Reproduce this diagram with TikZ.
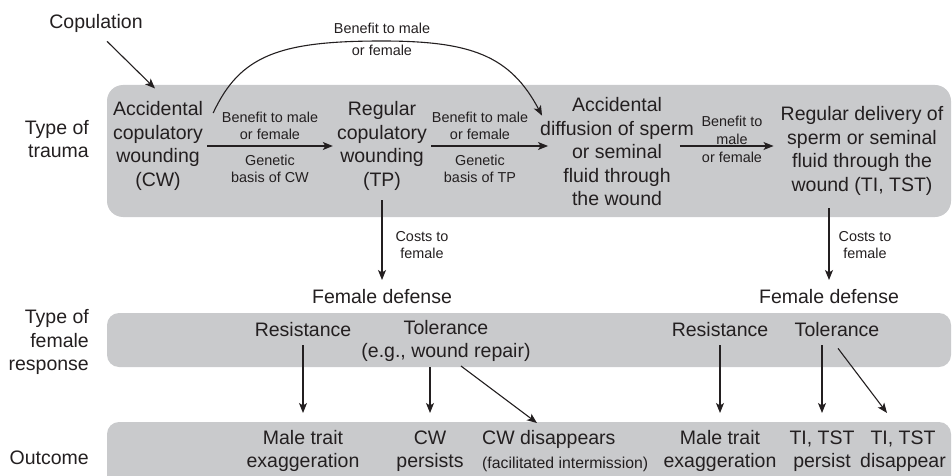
\documentclass[tikz,border=0pt]{standalone}
\usepackage{fontspec}
\setmainfont{Liberation Sans}
\usetikzlibrary{arrows.meta,calc}
\definecolor{boxgray}{RGB}{201,202,204}
\definecolor{ink}{RGB}{35,31,32}
\begin{document}
\begin{tikzpicture}[x=1pt,y=-1pt,
  big/.style={font=\fontsize{19.5}{23.5}\selectfont, align=center, inner sep=4pt, text=ink},
  small/.style={font=\fontsize{14.4}{17}\selectfont, align=center, inner sep=2pt, text=ink},
  arr/.style={-{Stealth[length=10pt,width=8pt,inset=2.5pt]}, line width=1.1pt, draw=ink},
  band/.style={fill=boxgray}]
\useasboundingbox (0,0) rectangle (952,476);
\clip (0,0) rectangle (952,476);
% bands
\fill[band, rounded corners=16pt] (107,85) rectangle (951,217);
\fill[band, rounded corners=12pt] (107,313) rectangle (951,367);
\fill[band, rounded corners=12pt] (107,422) rectangle (951,500);
% row labels
\node[big, anchor=east, align=right] (typ1) at (93,139) {Type of\\trauma};
\node[big, anchor=east, align=right] (typ2) at (93,342) {Type of\\female\\response};
\node[big, anchor=east] (typ3) at (93,458) {Outcome};
% top row
\node[big] (cop) at (96,23) {Copulation};
\node[big] (cw) at (158,146) {Accidental\\copulatory\\wounding\\(CW)};
\node[big] (tp) at (382,146) {Regular\\copulatory\\wounding\\(TP)};
\node[big] (diff) at (617,152) {Accidental\\diffusion of sperm\\or seminal\\fluid through\\the wound};
\node[big] (del) at (862,151) {Regular delivery of\\sperm or seminal\\fluid through the\\wound (TI, TST)};
\node[small] (b1) at (270,126) {Benefit to male\\or female};
\node[small] (g1) at (270,169) {Genetic\\basis of CW};
\node[small] (b2) at (480,126) {Benefit to male\\or female};
\node[small] (g2) at (480,169) {Genetic\\basis of TP};
\node[small, font=\fontsize{14.4}{18}\selectfont] (b3) at (732,139) {Benefit to\\male\\or female};
\node[small, font=\fontsize{14.4}{22}\selectfont] (btop) at (382,39) {Benefit to male\\or female};
\node[small] (c1) at (422,245) {Costs to\\female};
\node[small] (c2) at (865,245) {Costs to\\female};
% defense row
\node[big] (fd1) at (382,297) {Female defense};
\node[big] (fd2) at (829,297) {Female defense};
\node[big] (res1) at (303,330) {Resistance};
\node[big] (tol1) at (446,341) {Tolerance\\(e.g., wound repair)};
\node[big] (res2) at (720,330) {Resistance};
\node[big] (tol2) at (837,330) {Tolerance};
% outcome row
\node[big] (mt1) at (303,451) {Male trait\\exaggeration};
\node[big] (cwp) at (430,451) {CW\\persists};
\node[big, anchor=west, align=left] (cwd) at (478,451) {CW disappears\\\fontsize{15.8}{19}\selectfont (facilitated intermission)};
\node[big] (mt2) at (720,451) {Male trait\\exaggeration};
\node[big] (tip) at (822,451) {TI, TST\\persist};
\node[big] (tid) at (903,451) {TI, TST\\disappear};
% levels
\coordinate (lvA) at (0,200);
\coordinate (lvB) at (0,280);
\coordinate (lvC) at (0,208);
\coordinate (lvD) at (0,345);
\coordinate (lvE) at (0,413);
\coordinate (lvF) at (0,367);
\coordinate (ctop) at (382,41);
% connectors
\draw[arr] ($(cop.south)+(11,5)$) -- ($(cw.north)+(-3,-9)$);
\draw[arr] (cw.east) -- (tp.west);
\draw[arr] (tp.east) -- ($(tp.east -| diff.west)+(12,0)$);
\draw[arr] ($(diff.east)+(-18,-6)$) -- ($(del.west)+(-3,-5)$);
\draw[arr] ($(cw.east)+(6,-33)$) .. controls (240,55) and (280,41) .. (ctop)
  .. controls (470,41) and (510,55) .. ($(diff.north west)+(6,22)$);
\draw[arr] (tp |- lvA) -- (fd1 |- lvB);
\draw[arr] (fd2 |- lvC) -- (fd2 |- lvB);
\draw[arr] (res1 |- lvD) -- (mt1 |- lvE);
\draw[arr] (cwp |- lvF) -- (cwp |- lvE);
\draw[arr] ($(tol1.south)+(15,0)$) -- ($(cwd.west)+(59,-28)$);
\draw[arr] (res2 |- lvD) -- (mt2 |- lvE);
\draw[arr] (tip |- lvD) -- (tip |- lvE);
\draw[arr] ($(tol2.south)+(1,7)$) -- ($(tid |- lvE)+(-16,0)$);
\end{tikzpicture}
\end{document}
